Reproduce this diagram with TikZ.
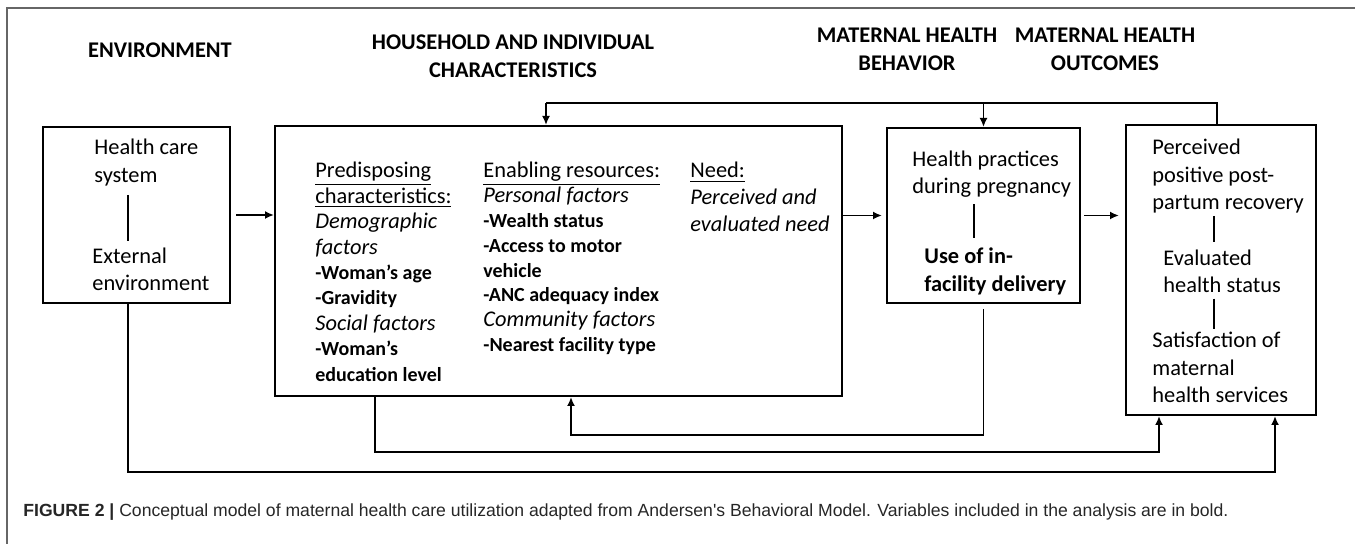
\documentclass[tikz,border=0pt]{standalone}
\usepackage{fontspec}
\setmainfont{Carlito}
\newfontfamily\capfont{Liberation Sans}
\usetikzlibrary{calc,arrows.meta}

\tikzset{
  box/.style={draw, line width=1pt, inner sep=0},
  txt/.style={inner sep=0, anchor=north west, align=left},
  head/.style={inner sep=0, align=center, font=\fontsize{11.2}{14}\selectfont\bfseries},
  arr/.style={line width=0.9pt, -{Latex[length=4.5pt,width=4pt]}},
  link/.style={line width=0.9pt},
}
\def\sm#1{{\fontsize{10}{12.5}\selectfont\bfseries #1}}

\begin{document}
\begin{tikzpicture}[x=0.5pt, y=-0.5pt]
			%%%%% START %%%%%
			\useasboundingbox (0,0) rectangle (1355,544);
			\draw[line width=0.8pt, color=black!60] (7,544) -- (7,8) -- (1355,8);
			
			\node[head] (hEnv) at (160,50) {ENVIRONMENT};
			\node[head] (hHh) at (513,56) {HOUSEHOLD AND INDIVIDUAL\\CHARACTERISTICS};
			\node[head] (hBeh) at (907,49) {MATERNAL HEALTH\\BEHAVIOR};
			\node[head] (hOut) at (1105,49) {MATERNAL HEALTH\\OUTCOMES};
			
			\node[box, minimum width=93.5pt, minimum height=88pt] (env) at (136.5,215) {};
			\node[box, minimum width=283.5pt, minimum height=135pt] (hhold) at (558.5,261) {};
			\node[box, minimum width=96.5pt, minimum height=87.5pt] (behav) at (983.5,215.5) {};
			\node[box, minimum width=95pt, minimum height=145pt] (outc) at (1221,270) {};
			
			% environment
			\node[txt, font=\fontsize{11.2}{14}\selectfont] (hcs) at (94,139) {Health care\\system};
			\node[txt, font=\fontsize{11.2}{13.5}\selectfont] (ext) at (92,248) {External\\environment};
			\draw[link] ($(hcs.south west)+(34,8)$) -- ($(ext.north west)+(36,-7)$);
			
			% household
			\node[txt, font=\fontsize{11.2}{12.7}\selectfont] (pred) at (315,162)
			  {\underline{Predisposing}\\\underline{characteristics:}\\\textit{Demographic}\\\textit{factors}\\
			   \sm{-Woman's age}\\\sm{-Gravidity}\\\textit{Social factors}\\\sm{-Woman's}\\\sm{education level}};
			\node[txt, font=\fontsize{11.2}{12.4}\selectfont] (enab) at (483,162)
			  {\underline{Enabling resources:}\\\textit{Personal factors}\\\sm{-Wealth status}\\\sm{-Access to motor}\\
			   \sm{vehicle}\\\sm{-ANC adequacy index}\\\textit{Community factors}\\\sm{-Nearest facility type}};
			\node[txt, font=\fontsize{11.2}{13.5}\selectfont] (need) at (690,162)
			  {\underline{Need:}\\\textit{Perceived and}\\\textit{evaluated need}};
			
			% behavior
			\node[txt, font=\fontsize{11.2}{13.5}\selectfont] (prac) at (912,151) {Health practices\\during pregnancy};
			\node[txt, font=\fontsize{11.2}{14}\selectfont\bfseries] (deliv) at (924,247) {Use of in-\\facility delivery};
			\draw[link] ($(prac.south west)+(62,6)$) -- ($(deliv.north west)+(50,-9)$);
			
			% outcomes
			\node[txt, font=\fontsize{11.2}{13.75}\selectfont] (recov) at (1152,139) {Perceived\\positive post-\\partum recovery};
			\node[txt, font=\fontsize{11.2}{13.5}\selectfont] (stat) at (1163,250) {Evaluated\\health status};
			\node[txt, font=\fontsize{11.2}{13.75}\selectfont] (satis) at (1152,332) {Satisfaction of\\maternal\\health services};
			\draw[link] ($(recov.south west)+(62,2)$) -- ($(stat.north west)+(51,-8)$);
			\draw[link] ($(stat.south west)+(51,5)$) -- ($(satis.north west)+(62,-3)$);
			
			% forward arrows
			\draw[arr, shorten <=2.5pt] (env.east) -- (env.east -| hhold.west);
			\draw[arr, shorten >=2pt] (behav.west -| hhold.east) -- (behav.west);
			\draw[arr, shorten <=1.5pt, shorten >=3pt] (behav.east) -- (behav.east -| outc.west);
			
			% feedback on top
			\coordinate (tp) at (546,103);
			\coordinate (tpe) at (1217,103);
			\draw[link] (tpe |- outc.north) -- (tpe) -- (tp);
			\draw[arr] (tp) -- (tp |- hhold.north);
			\draw[arr] (behav.north |- tp) -- (behav.north);
			
			% loops below
			\coordinate (lp1) at (571,435);
			\coordinate (lp2) at (375,452);
			\coordinate (lp2e) at (1159,452);
			\coordinate (lp3) at (128,472);
			\coordinate (lp3e) at (1275,472);
			\draw[arr, shorten <=2.5pt] (behav.south) |- (lp1) -- (lp1 |- hhold.south);
			\draw[arr] (lp2 |- hhold.south) -- (lp2) -- (lp2e) -- (lp2e |- outc.south);
			\draw[arr] (lp3 |- env.south) -- (lp3) -- (lp3e) -- (lp3e |- outc.south);
			
			\node[inner sep=0, anchor=base west, font=\capfont\fontsize{8.8}{10}\selectfont, text=black!85] (cap) at (23,517)
			  {\textbf{FIGURE 2 |} Conceptual model of maternal health care utilization adapted from Andersen's Behavioral Model. Variables included in the analysis are in bold.};
			%%%%% END %%%%%
\end{tikzpicture}
\end{document}
